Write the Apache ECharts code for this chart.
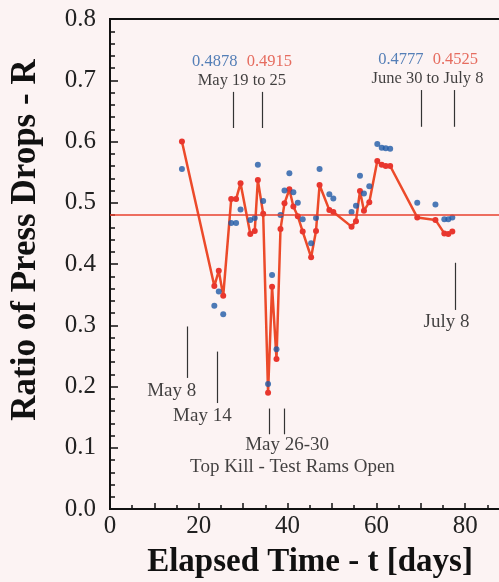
<!DOCTYPE html>
<html>
<head>
<meta charset="utf-8">
<script src="https://cdn.jsdelivr.net/npm/echarts@6/dist/echarts.min.js"></script>
<style>
  html, body { margin: 0; padding: 0; background: #fcf3f3; }
  #main { width: 499px; height: 582px; }
</style>
</head>
<body>
<div id="main"></div>
<script>
// elapsed time [days] of each measurement
var days = [16.2, 23.5, 24.5, 25.5, 27.3, 28.4, 29.4, 31.6, 32.6, 33.3, 34.5, 35.6, 36.5, 37.5,
    38.4, 39.3, 40.4, 41.3, 42.3, 43.4, 45.3, 46.4, 47.2, 49.4, 50.3, 54.4, 55.4, 56.3, 57.2,
    58.4, 60.2, 61.2, 62.1, 63.1, 69.2, 73.3, 75.3, 76.2, 77.1];
// red (line) series
var ratioRed = [0.600, 0.364, 0.389, 0.348, 0.506, 0.506, 0.532, 0.449, 0.454, 0.537, 0.482, 0.190, 0.363, 0.245,
    0.457, 0.499, 0.522, 0.494, 0.478, 0.453, 0.411, 0.454, 0.529, 0.488, 0.485, 0.461, 0.470, 0.519, 0.487,
    0.501, 0.568, 0.562, 0.560, 0.560, 0.476, 0.472, 0.450, 0.449, 0.453];
// blue (points) series
var ratioBlue = [0.555, 0.332, 0.355, 0.318, 0.467, 0.467, 0.489, 0.472, 0.475, 0.562, 0.503, 0.204, 0.382, 0.261,
    0.480, 0.520, 0.548, 0.517, 0.500, 0.473, 0.434, 0.475, 0.555, 0.514, 0.507, 0.485, 0.495, 0.544, 0.515,
    0.527, 0.596, 0.590, 0.589, 0.588, 0.500, 0.497, 0.473, 0.473, 0.476];
var meanRatio = 0.48;

// annotation texts: [t, R, text, colour, size]
var noteTexts = [
    [23.6, 0.731, '0.4878', '#2a62a8', 16.5],
    [35.9, 0.731, '0.4915', '#e04a3a', 16.5],
    [29.7, 0.699, 'May 19 to 25', '#111', 16.5],
    [65.5, 0.733, '0.4777', '#2a62a8', 16.5],
    [77.8, 0.733, '0.4525', '#e04a3a', 16.5],
    [71.5, 0.702, 'June 30 to July 8', '#111', 16.5],
    [75.8, 0.305, 'July 8', '#111', 19],
    [13.9, 0.192, 'May 8', '#111', 19],
    [20.8, 0.151, 'May 14', '#111', 19],
    [39.9, 0.104, 'May 26-30', '#111', 19],
    [41.1, 0.069, 'Top Kill - Test Rams Open', '#111', 19]
];
// annotation tick lines: [t, R from, R to]
var noteLines = [
    [27.7, 0.681, 0.622], [34.4, 0.681, 0.622],
    [70.0, 0.684, 0.624], [77.5, 0.684, 0.624],
    [77.7, 0.402, 0.325],
    [17.3, 0.298, 0.214],
    [24.2, 0.257, 0.173],
    [35.8, 0.164, 0.122], [39.2, 0.164, 0.122]
];

var serif = 'Liberation Serif';

var redData = [], blueData = [];
for (var i = 0; i < days.length; i++) {
    redData.push([days[i], ratioRed[i]]);
    blueData.push([days[i], ratioBlue[i]]);
}
var lineData = [];
for (var j = 0; j < noteLines.length; j++) {
    lineData.push([
        {coord: [noteLines[j][0], noteLines[j][1]]},
        {coord: [noteLines[j][0], noteLines[j][2]]}
    ]);
}
var textData = [];
for (var k = 0; k < noteTexts.length; k++) {
    textData.push({
        value: [noteTexts[k][0], noteTexts[k][1]],
        name: noteTexts[k][2],
        label: {color: noteTexts[k][3], fontSize: noteTexts[k][4]}
    });
}

var myChart = echarts.init(document.getElementById('main'));
var option = {
    backgroundColor: '#fcf3f3',
    animation: false,
    grid: {
        left: 110, top: 19, bottom: 73, right: -55,
        show: true, borderColor: '#111', borderWidth: 2,
        outerBoundsMode: 'none'
    },
    xAxis: {
        type: 'value', min: 0, max: 100, interval: 10,
        name: 'Elapsed Time - t [days]', nameLocation: 'middle', nameGap: 37,
        nameTextStyle: {fontFamily: serif, fontWeight: 'bold', fontSize: 33, color: '#111', padding: [0, 44, 0, 0]},
        axisLine: {lineStyle: {color: '#111', width: 2}},
        axisTick: {inside: true, length: 6, lineStyle: {color: '#111', width: 1.5}},
        minorTick: {show: true, splitNumber: 2, length: 4, lineStyle: {color: '#111', width: 1.5}},
        splitLine: {show: false},
        axisLabel: {
            fontFamily: serif, fontSize: 25, color: '#222', margin: 5,
            formatter: function (v) { return v % 20 === 0 ? String(v) : ''; }
        }
    },
    yAxis: {
        type: 'value', min: 0, max: 0.8, interval: 0.1,
        name: 'Ratio of Press Drops - R', nameLocation: 'middle', nameGap: 67,
        nameTextStyle: {fontFamily: serif, fontWeight: 'bold', fontSize: 35, color: '#111', padding: [0, 0, 0, 48]},
        axisLine: {lineStyle: {color: '#111', width: 2}},
        axisTick: {inside: true, length: 8, lineStyle: {color: '#111', width: 1.5}},
        minorTick: {show: true, splitNumber: 5, length: 5, lineStyle: {color: '#111', width: 1.5}},
        splitLine: {show: false},
        axisLabel: {
            fontFamily: serif, fontSize: 25, color: '#222', margin: 14,
            formatter: function (v) { return v.toFixed(1); }
        }
    },
    series: [
        {
            name: 'red', type: 'line', data: redData,
            symbol: 'circle', symbolSize: 6,
            lineStyle: {color: '#ec4a2a', width: 2.5},
            itemStyle: {color: '#e8362e'},
            z: 3,
            markLine: {
                silent: true, symbol: 'none',
                label: {show: false},
                lineStyle: {color: '#e8402e', width: 1.5, type: 'solid'},
                data: [{yAxis: meanRatio}]
            }
        },
        {
            name: 'blue', type: 'scatter', data: blueData,
            symbolSize: 6,
            itemStyle: {color: '#1f5aa6'},
            z: 4
        },
        {
            name: 'notes', type: 'scatter', data: textData,
            symbolSize: 0, silent: true,
            label: {
                show: true, position: 'inside',
                fontFamily: serif, fontSize: 16,
                formatter: function (p) { return p.name; }
            },
            markLine: {
                silent: true, symbol: 'none',
                label: {show: false},
                lineStyle: {color: '#333', width: 1.2, type: 'solid'},
                data: lineData
            }
        }
    ]
};
myChart.setOption(option);
</script>
</body>
</html>
